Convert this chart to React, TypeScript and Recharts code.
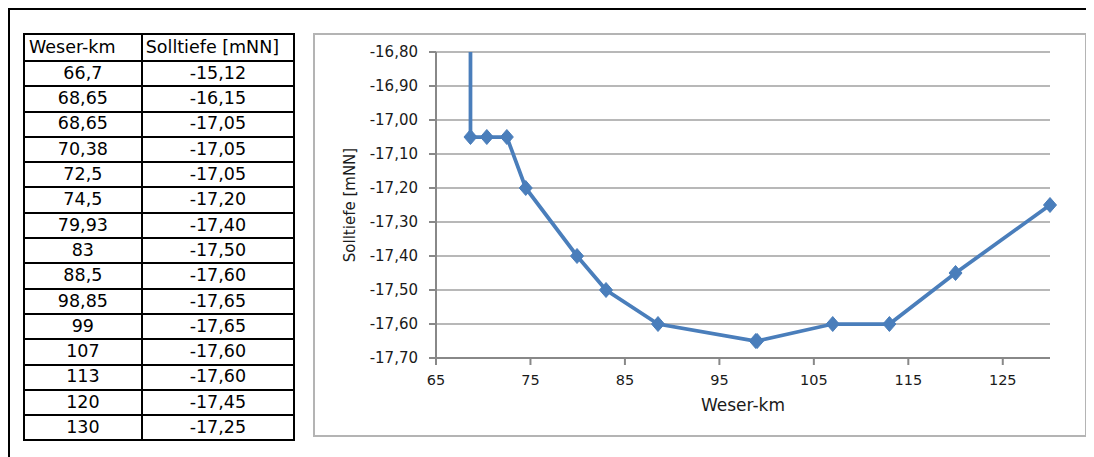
import React from "react";
import {
  LineChart,
  Line,
  XAxis,
  YAxis,
  CartesianGrid,
} from "recharts";

// Weser-km and target depth (Solltiefe) pairs
const weserKm = [66.7, 68.65, 68.65, 70.38, 72.5, 74.5, 79.93, 83, 88.5, 98.85, 99, 107, 113, 120, 130];
const solltiefe = [
  -15.12, -16.15, -17.05, -17.05, -17.05, -17.2, -17.4, -17.5, -17.6, -17.65, -17.65, -17.6, -17.6, -17.45, -17.25,
];

const xTicks = [65, 75, 85, 95, 105, 115, 125];
const yTicks = [-16.8, -16.9, -17.0, -17.1, -17.2, -17.3, -17.4, -17.5, -17.6, -17.7];
const yDomain: [number, number] = [-17.7, -16.8];

const data = weserKm.map((km, i) => ({ km, depth: solltiefe[i] }));
// points that fall inside the visible depth range get a marker
const markerData = data.filter((d) => d.depth >= yDomain[0] && d.depth <= yDomain[1]);

const FONT = '"DejaVu Sans", Verdana, sans-serif';
const BLUE = "#4a7ebb";

const fmtKm = (v: number) => String(v).replace(".", ",");
const fmtDepth = (v: number) => v.toFixed(2).replace(".", ",");

const Diamond = (props: any) => {
  const { cx, cy, index } = props;
  if (cx == null || cy == null) return <g key={`d-${index}`} />;
  return (
    <path
      key={`d-${index}`}
      d={`M${cx},${cy - 7.5} L${cx + 6.5},${cy} L${cx},${cy + 7.5} L${cx - 6.5},${cy} Z`}
      fill={BLUE}
      stroke={BLUE}
      strokeWidth={1}
    />
  );
};

const cell: React.CSSProperties = {
  border: "2px solid #000",
  padding: 0,
  textAlign: "center",
  lineHeight: "1",
};

const DataTable = () => (
  <table
    style={{
      position: "absolute",
      left: 15,
      top: 25,
      borderCollapse: "collapse",
      fontFamily: FONT,
      fontSize: 17.5,
      color: "#000",
      width: 272,
    }}
  >
    <tbody>
      <tr style={{ height: 27 }}>
        <td style={{ ...cell, width: 117, textAlign: "left", paddingLeft: 4 }}>Weser-km</td>
        <td style={{ ...cell, width: 155, textAlign: "left", paddingLeft: 3 }}>Solltiefe [mNN]</td>
      </tr>
      {weserKm.map((km, i) => (
        <tr key={i} style={{ height: 25.3 }}>
          <td style={cell}>{fmtKm(km)}</td>
          <td style={cell}>{fmtDepth(solltiefe[i])}</td>
        </tr>
      ))}
    </tbody>
  </table>
);

export default function App() {
  return (
    <div style={{ position: "relative", width: 1086, height: 449, overflow: "hidden" }}>
      <div
        style={{
          position: "absolute",
          left: 0,
          top: 0,
          width: 1200,
          height: 600,
          borderTop: "2px solid #000",
          borderLeft: "2px solid #000",
        }}
      />
      <DataTable />
      <div
        style={{
          position: "absolute",
          left: 305,
          top: 25,
          width: 774,
          height: 404,
          boxSizing: "border-box",
          border: "2px solid #b4b4b4",
          background: "#fff",
        }}
      />
      <div style={{ position: "absolute", left: 305, top: 25 }}>
        <LineChart
          width={774}
          height={404}
          data={data}
          margin={{ top: 19, right: 37, bottom: 19, left: 0 }}
        >
          <CartesianGrid vertical={false} stroke="#a0a0a0" strokeWidth={1.5} />
          <XAxis
            type="number"
            dataKey="km"
            domain={[65, 130]}
            ticks={xTicks}
            height={60}
            stroke="#888"
            strokeWidth={2}
            tickSize={7}
            tickMargin={10}
            tick={{ fill: "#1a1a1a", fontSize: 14.5, fontFamily: FONT }}
            label={{
              value: "Weser-km",
              position: "insideBottom",
              offset: 7,
              fill: "#1a1a1a",
              fontSize: 17,
              fontFamily: FONT,
            }}
          />
          <YAxis
            type="number"
            domain={yDomain}
            ticks={yTicks}
            allowDataOverflow
            width={123}
            stroke="#888"
            strokeWidth={2}
            tickSize={7}
            tickMargin={11}
            tickFormatter={fmtDepth}
            tick={{ fill: "#1a1a1a", fontSize: 15, fontFamily: FONT }}
            label={{
              value: "Solltiefe [mNN]",
              angle: -90,
              position: "insideLeft",
              offset: 37,
              fill: "#1a1a1a",
              fontSize: 15,
              fontFamily: FONT,
              style: { textAnchor: "middle" },
            }}
          />
          <YAxis yAxisId="markers" type="number" domain={yDomain} ticks={yTicks} hide />
          <Line
            type="linear"
            dataKey="depth"
            stroke={BLUE}
            strokeWidth={3.75}
            dot={false}
            activeDot={false}
            isAnimationActive={false}
          />
          <Line
            yAxisId="markers"
            data={markerData}
            type="linear"
            dataKey="depth"
            stroke="none"
            dot={Diamond}
            activeDot={false}
            isAnimationActive={false}
          />
        </LineChart>
      </div>
    </div>
  );
}
